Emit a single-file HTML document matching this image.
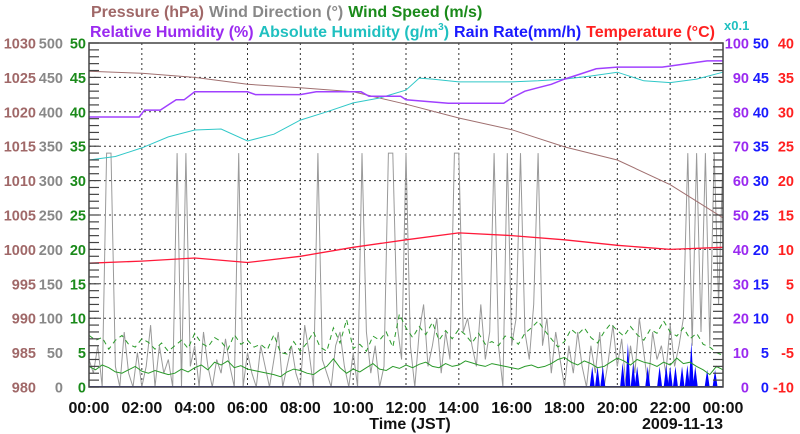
<!DOCTYPE html>
<html><head><meta charset="utf-8">
<style>
html,body{margin:0;padding:0;background:#fff;}
svg{display:block;font-family:"Liberation Sans",sans-serif;font-weight:bold;}
</style></head>
<body>
<svg id="chart" width="800" height="434" viewBox="0 0 800 434" xmlns="http://www.w3.org/2000/svg">
<g font-size="16">
<text x="91" y="17"><tspan fill="#a06868">Pressure (hPa)</tspan><tspan fill="#888" dx="5">Wind Direction (°)</tspan><tspan fill="#1a8a1a" dx="5">Wind Speed (m/s)</tspan></text>
<text x="90" y="37"><tspan fill="#9a2af0">Relative Humidity (%)</tspan><tspan fill="#20c0c0" dx="5">Absolute Humidity (g/m</tspan><tspan fill="#20c0c0" font-size="10" dy="-7">3</tspan><tspan fill="#20c0c0" dy="7">)</tspan><tspan fill="#1a1aff" dx="5">Rain Rate(mm/h)</tspan><tspan fill="#ff2020" dx="5">Temperature (°C)</tspan></text>
<text x="724" y="30" fill="#20c0c0" font-size="13">x0.1</text>
</g>
<g id="grid"></g>
<g id="series"></g>
<g id="axes"></g>
</svg>
<script>
// ---- data ----
const pressureHours = [0,2,4,6,8,10,12,14,16,18,20,22,24];
const pressureValues = [1025.9,1025.6,1025.0,1024.0,1023.5,1022.9,1021.1,1019.1,1017.4,1014.9,1013.0,1009.4,1004.6];
const rhHours = [0,1,1.9,2.1,2.7,3.0,3.3,3.6,4.0,6.0,6.3,8.0,8.6,10.3,10.6,11.8,12.0,13.6,15.7,16.0,16.5,17.0,17.5,18.0,18.6,19.2,20.0,21.7,23.4,24];
const rhValues = [78.5,78.5,78.5,80.5,80.5,82,83.5,83.5,85.8,85.8,85,85,85.8,85.8,84.5,84.5,83.5,82.5,82.5,84,86,87,88,89.5,91,92.5,93,93,94.8,94.8];
const ahHours = [0,1,2,3,4,5,6,7,8,9,10,11,12,12.5,13,14,15,16,17,18,19,20,21,22,23,24];
const ahValues = [66,67,69.5,72.7,74.7,75,71.5,73.5,77.6,80,82.6,84,86.3,89.8,89.5,88.7,88.7,88.7,89,89.5,90.4,91.5,89,88.5,89.5,91.5];
const tempHours = [0,2,4,6,8,10,12,14,16,18,20,22,24];
const tempValues = [8.0,8.3,8.75,8.1,9.0,10.3,11.4,12.4,12.0,11.4,10.6,10.0,10.3];
const windAvg = [3,2.5,3.2,2.8,2.2,2,2.5,3,2.3,2,2.4,2.1,1.8,2,2.6,2.2,2.8,3.2,2.5,3.6,3.2,3.8,2.8,3.1,2.6,2.4,2.2,2.0,1.8,1.5,2.2,2.6,2.4,2.0,1.8,2.5,3.0,4.1,2.8,2.0,2.6,2.2,2.8,3.4,2.6,2.4,3.0,2.7,3.2,2.8,3.3,3.6,3.0,2.8,3.4,3.0,3.2,3.8,3.5,3.2,3.0,3.4,3.2,3.0,2.8,2.6,3.0,3.2,2.8,3.0,3.4,4.0,4.3,3.6,3.2,3.8,3.4,2.8,3.0,3.6,4.2,3.8,3.2,4.0,3.6,3.4,3.0,3.6,3.2,4.2,3.4,3.6,3.0,2.5,1.8,3.0,2.5];
const windGust = [7.5,6.8,7.2,5.5,6.8,7.5,6.2,5.8,7,6.5,5.5,6.4,5.2,6,6.8,5.6,7.8,6.4,5.8,7.2,6.6,5.4,7.6,6.2,6.8,5.8,6.2,5.4,7.6,5.0,4.8,6.6,5.2,6.4,8.0,5.8,5.2,8.6,6.4,9.8,5.6,6.2,5.2,7.4,6.8,8.0,5.8,10.6,8.6,7.2,8.8,7.6,9.4,6.8,8.2,7.0,8.4,7.6,6.4,7.8,6.2,6.6,6.0,7.4,7.2,6.2,7.8,8.6,9.6,8.2,7.0,5.8,6.6,8.4,7.6,8.6,7.2,6.4,8.0,9.2,8.2,7.4,8.8,7.6,6.8,8.4,7.8,9.6,8.0,7.4,8.6,7.0,7.8,6.2,5.8,5.0,4.6];
const windDir = [
40,20,60,0,340,340, 30,0,80,20,0,50, 0,30,90,0,60,20, 40,0,340,0,340,30,
60,0,80,30,0,40, 20,70,30,0,340,0, 50,20,0,60,30,0, 40,80,0,30,60,20,
0,90,50,0,340,40, 20,0,60,80,30,0, 50,0,340,80,20,60, 0,30,340,340,90,40,
340,60,0,80,120,30, 60,100,20,80,40,340, 340,80,100,60,30,120, 40,80,340,60,0,340,
60,100,340,80,40,120, 340,60,100,20,80,40, 0,60,20,80,30,0, 60,20,80,0,40,90,
30,70,0,60,20,100, 50,0,80,40,60,20, 90,30,60,100,340,60, 340,80,340,60,340,120,
340];
const rainHours = [19.05,19.25,19.45,20.2,20.4,20.6,20.75,21.15,21.6,21.85,22.0,22.2,22.45,22.65,22.8,22.95,23.4,23.7];
const rainValues = [3,3,3,3.5,6.4,3.5,3,3,3,3.2,3,3,3,3.2,6.5,3,2.5,2.5];
const xTickLabels = ["00:00","02:00","04:00","06:00","08:00","10:00","12:00","14:00","16:00","18:00","20:00","22:00","00:00"];
const pressureTicks = [980,985,990,995,1000,1005,1010,1015,1020,1025,1030];
const dirTicks = [0,50,100,150,200,250,300,350,400,450,500];
const speedTicks = [0,5,10,15,20,25,30,35,40,45,50];
const rhTicks = [0,10,20,30,40,50,60,70,80,90,100];
const rainTicks = [0,5,10,15,20,25,30,35,40,45,50];
const tempTicks = [-10,-5,0,5,10,15,20,25,30,35,40];

// ---- scales ----
const X0=89,X1=723,Y0=387,Y1=43;
const xH = h => X0 + h/24*(X1-X0);
const lin = (min,max) => v => Y0 - (v-min)/(max-min)*(Y0-Y1);
const yP = lin(980,1030), yD = lin(0,500), yS = lin(0,50), yRH = lin(0,100), yR = lin(0,50), yT = lin(-10,40);
const NS="http://www.w3.org/2000/svg";
function mk(tag, attrs, parent){const e=document.createElementNS(NS,tag);for(const k in attrs)e.setAttribute(k,attrs[k]);parent.appendChild(e);return e;}
const grid=document.getElementById('grid'), series=document.getElementById('series'), axes=document.getElementById('axes');

for(let i=1;i<12;i++){const x=xH(i*2);const l=mk('line',{x1:x,x2:x,y1:Y1,y2:Y0,stroke:'#333','stroke-width':1,'stroke-dasharray':'2,3'},grid);

}
for(let i=1;i<10;i++){const y=Y0-i*(Y0-Y1)/10;const l=mk('line',{x1:X0,x2:X1,y1:y,y2:y,stroke:'#333','stroke-width':1,'stroke-dasharray':'2,3'},grid);

}

function poly(hours, vals, yf, color, name, extra){
  const pts = vals.map((v,i)=>xH(hours[i]).toFixed(1)+','+yf(v).toFixed(1)).join(' ');
  const p = mk('polyline',Object.assign({points:pts,fill:'none',stroke:color,'stroke-width':1},extra||{}),series);
  
  
}
function stepHours(n){return Array.from({length:n},(_,i)=>i*24/(n-1));}
poly(stepHours(windDir.length), windDir, yD, '#9a9a9a', 'wind-direction-line');
rainHours.forEach((h,i)=>{const x=xH(h);const p=mk('polygon',{points:`${x-2.5},${Y0} ${x},${yR(rainValues[i])} ${x+2.5},${Y0}`,fill:'#0000ff'},series);

});
poly(stepHours(windGust.length), windGust, yS, '#2a9a2a', 'wind-gust-line',{'stroke-dasharray':'5,4'});
poly(stepHours(windAvg.length), windAvg, yS, '#2a9a2a', 'wind-speed-line');
poly(pressureHours, pressureValues, yP, '#a07070', 'pressure-line');
poly(ahHours, ahValues, yRH, '#30c8c8', 'absolute-humidity-line');
poly(rhHours, rhValues, yRH, '#a040ff', 'relative-humidity-line',{'stroke-width':1.5});
poly(tempHours, tempValues, yT, '#ff1a3a', 'temperature-line',{'stroke-width':1.3});
const rl=mk('line',{x1:X0,x2:X1,y1:Y0-0.5,y2:Y0-0.5,stroke:'#3030c0','stroke-width':1},series);



const fr=mk('rect',{x:X0,y:Y1,width:X1-X0,height:Y0-Y1,fill:'none',stroke:'#444','stroke-width':1.5},axes);


for(let i=0;i<=50;i++){const y=Y0-i*(Y0-Y1)/50;
 const a=mk('line',{x1:X0,x2:X0+10,y1:y,y2:y,stroke:'#444','stroke-width':1.2},axes);
 
 
 const b=mk('line',{x1:X1-10,x2:X1,y1:y,y2:y,stroke:'#444','stroke-width':1.2},axes);
 
 }

function tickCol(arr, yf, x, anchor, color, name){
  arr.forEach(v=>{const t=mk('text',{x:x,y:yf(v)+5.5,'text-anchor':anchor,fill:color,'font-size':14.5},axes);t.textContent=v;
  
  });
}
tickCol(pressureTicks, yP, 36, 'end', '#a06868', 'pressure-tick-label');
tickCol(dirTicks, yD, 63, 'end', '#888', 'wind-direction-tick-label');
tickCol(speedTicks, yS, 86, 'end', '#1a8a1a', 'wind-speed-tick-label');
tickCol(rhTicks, yRH, 749, 'end', '#9a2af0', 'humidity-tick-label');
tickCol(rainTicks, yR, 769, 'end', '#1a1aff', 'rain-tick-label');
tickCol(tempTicks, yT, 794, 'end', '#ff2020', 'temperature-tick-label');
xTickLabels.forEach((s,i)=>{const t=mk('text',{x:xH(i*2),y:413,'text-anchor':'middle',fill:'#111','font-size':16},axes);t.textContent=s;

});
const xt=mk('text',{x:410,y:429,'text-anchor':'middle',fill:'#111','font-size':16},axes);xt.textContent='Time (JST)';


const dt=mk('text',{x:723,y:429,'text-anchor':'end',fill:'#111','font-size':16},axes);dt.textContent='2009-11-13';


</script>
</body></html>
